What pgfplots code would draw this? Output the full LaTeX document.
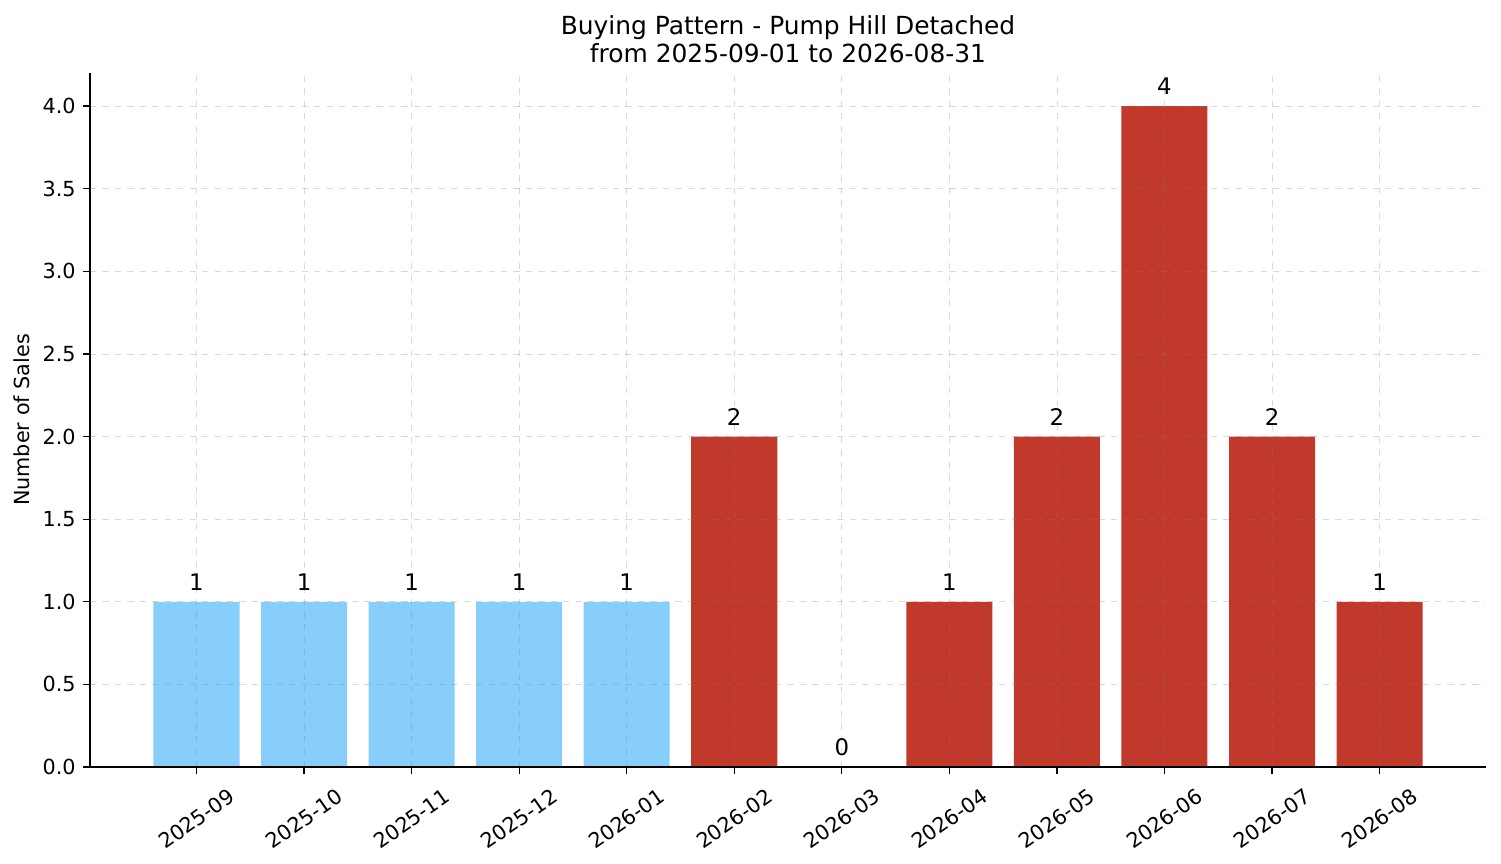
\documentclass[border=0pt]{standalone}
\usepackage{pgfplots}
\pgfplotsset{compat=1.18}
\usepackage{fontspec}
\setmainfont{DejaVu Sans}
\definecolor{lightblue}{HTML}{87CEFA}
\definecolor{barred}{HTML}{C0392B}

\begin{document}
\begin{tikzpicture}
\path[use as bounding box] (-43.2bp,-46.08bp) rectangle (677.28bp,368.16bp);
\begin{axis}[
    at={(0,0)}, anchor=south west,
    scale only axis,
    width=670.1bp, height=333.1bp,
    xmin=-0.99, xmax=11.99,
    ymin=0, ymax=4.2,
    axis x line*=bottom, axis y line*=left,
    axis line style={-, line width=0.6pt},
    tick align=outside,
    major tick length=3.4bp,
    tick style={black, line width=0.6pt},
    xtick={0,...,11},
    xticklabels={2025-09,2025-10,2025-11,2025-12,2026-01,2026-02,2026-03,2026-04,2026-05,2026-06,2026-07,2026-08},
    xticklabel style={anchor=center, yshift=-21.5bp, rotate=35, font=\fontsize{10}{12}\selectfont},
    ytick={0,0.5,...,4.0},
    yticklabel style={font=\fontsize{10}{12}\selectfont},
    y tick label style={/pgf/number format/.cd, fixed, fixed zerofill, precision=1},
    /pgf/number format/assume math mode=true,
    grid=major,
    major grid style={dashed, gray, opacity=0.3, line width=0.4pt},
    axis on top,
    ylabel={Number of Sales},
    ylabel style={font=\fontsize{10}{12}\selectfont, yshift=-0.5bp},
    title={Buying Pattern - Pump Hill Detached\\from 2025-09-01 to 2026-08-31},
    title style={font=\fontsize{12}{13.5}\selectfont, align=center, yshift=-4.4bp},
    ybar, bar width=0.8, bar shift=0pt,
    nodes near coords,
    nodes near coords style={font=\fontsize{11}{12}\selectfont, black, anchor=south, yshift=2bp},
    point meta=explicit symbolic,
]
\addplot[fill=lightblue, draw=none] coordinates {
    (0,1) [1] (1,1) [1] (2,1) [1] (3,1) [1] (4,1) [1]
};
\addplot[fill=barred, draw=none] coordinates {
    (5,2) [2] (6,0) [0] (7,1) [1] (8,2) [2] (9,4) [4] (10,2) [2] (11,1) [1]
};
\end{axis}
\end{tikzpicture}
\end{document}
